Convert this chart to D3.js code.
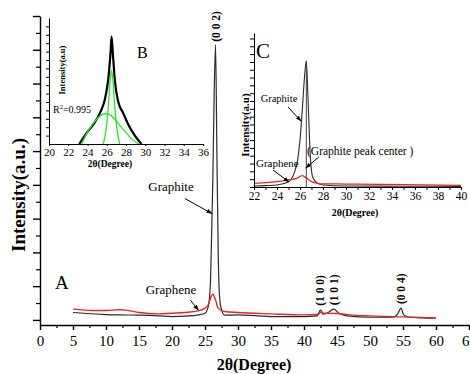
<!DOCTYPE html>
<html>
<head>
<meta charset="utf-8">
<script src="https://cdn.jsdelivr.net/npm/d3@7"></script>
<style>
  body { margin: 0; background: #fff; }
  svg text { font-family: "Liberation Serif", "DejaVu Serif", "Times New Roman", Times, serif !important; }
</style>
</head>
<body>
<svg id="chart" width="470" height="374"></svg>
<script>
// XRD patterns, [2theta, intensity a.u.]

// panel A (full scan)
var graphiteA = [[5,0.22],[7,0.19],[10,0.16],[12,0.15],[15,0.14],[18,0.12],[20,0.1],[22,0.11],[24,0.15],[25,0.2],
  [25.5,0.4],[25.8,1.0],[26.0,2.5],[26.2,4.3],[26.4,6.8],[26.6,8.15],[26.8,5.0],[27.0,2.0],[27.2,0.7],[27.5,0.3],
  [28,0.14],[30,0.15],[33,0.12],[35,0.1],[38,0.1],[40,0.1],[42,0.12],[42.5,0.3],[42.9,0.17],[43.5,0.2],[44.5,0.32],
  [45.3,0.2],[46.5,0.12],[50,0.08],[53.5,0.08],[54.2,0.18],[54.7,0.35],[55.1,0.15],[56,0.08],[58,0.06],[60,0.05]];
var grapheneA = [[5,0.32],[8,0.28],[10,0.28],[12,0.3],[13,0.29],[15,0.22],[18,0.18],[20,0.2],[22,0.22],[24,0.27],
  [25,0.35],[25.5,0.45],[25.8,0.62],[26.2,0.76],[26.6,0.59],[27,0.35],[28,0.25],[30,0.22],[35,0.18],[40,0.15],
  [42.2,0.17],[42.6,0.24],[43,0.2],[45,0.19],[47,0.15],[50,0.12],[55,0.09],[60,0.06]];
var peakLabels = [["(0 0 2)", 26.6, 8.15], ["(1 0 0)", 42.5, 0.3], ["(1 0 1)", 44.5, 0.32], ["(0 0 4)", 54.7, 0.35]];
var xTicksA = d3.range(0, 66, 5);
var yTicksA = d3.range(0, 10, 1);

// panel B (peak fit)
var fitTotal = [[23.15,0],[23.9,1.3],[24.6,2.3],[25.3,3.7],[25.8,5.3],[26.15,7.65],[26.4,11.0],[26.5,12.8],
  [26.65,10.5],[26.85,7.5],[27.2,5.0],[27.7,3.7],[28.25,2.3],[28.75,1.3],[29.6,0]];
var fitNarrow = [[25.6,0],[25.8,0.8],[26.0,2.4],[26.2,5.0],[26.35,7.4],[26.5,8.76],[26.65,7.4],[26.8,5.0],
  [27.0,2.4],[27.2,0.8],[27.35,0]];
var fitBroad = [[23.4,0],[23.9,1.2],[24.5,2.3],[25.0,3.0],[25.5,3.5],[25.9,3.6],[26.3,3.5],[26.8,3.0],[27.3,2.3],
  [27.9,1.5],[28.5,0.7],[29.3,0]];
var xTicksB = d3.range(20, 37, 2);
var rSquared = "0.995";

// panel C (zoom on the 002 peak)
var graphiteC = [[22,0.13],[23,0.18],[24,0.26],[25,0.68],[25.5,1.8],[25.8,3.5],[26.0,6.0],[26.2,9.9],[26.4,14.2],
  [26.55,16.1],[26.7,11.2],[26.9,3.85],[27.1,1.28],[27.5,0.5],[28,0.26],[30,0.13],[35,0.1],[40,0.08]];
var grapheneC = [[22,0.47],[23,0.55],[24,0.68],[25,0.9],[25.7,1.1],[26.2,1.45],[26.6,1.1],[27,0.68],[27.5,0.47],
  [28,0.4],[30,0.38],[35,0.3],[40,0.2]];
var peakCenterC = 26.55;
var xTicksC = d3.range(22, 41, 2);

var black = "#2b2b2b", red = "#e8232b", green = "#2ee02e";
var serif = "'Liberation Serif', 'DejaVu Serif', 'Times New Roman', serif";

var svg = d3.select("#chart");

var defs = svg.append("defs");
defs.append("marker")
  .attr("id", "arr")
  .attr("viewBox", "0 0 10 10")
  .attr("refX", 9).attr("refY", 5)
  .attr("markerWidth", 6).attr("markerHeight", 6)
  .attr("markerUnits", "userSpaceOnUse")
  .attr("orient", "auto")
  .append("path").attr("d", "M0,1.5L10,5L0,8.5Z").attr("fill", "#000");

function drawLine(g, data, x, y, color, width) {
  g.append("path")
    .datum(data)
    .attr("fill", "none")
    .attr("stroke", color)
    .attr("stroke-width", width)
    .attr("stroke-linejoin", "round")
    .attr("d", d3.line()
      .x(function(d) { return x(d[0]); })
      .y(function(d) { return y(d[1]); })
      .curve(d3.curveMonotoneX));
}

// arrow pointing at (x2,y2) from an offset start
function arrow(g, x2, y2, dx, dy) {
  g.append("line")
    .attr("x1", x2 + dx).attr("y1", y2 + dy)
    .attr("x2", x2).attr("y2", y2)
    .attr("stroke", "#000").attr("stroke-width", 1)
    .attr("marker-end", "url(#arr)");
}

function label(g, txt, x, y, size, opts) {
  opts = opts || {};
  var t = g.append("text")
    .attr("x", x).attr("y", y)
    .attr("font-family", serif)
    .attr("font-size", size)
    .attr("text-anchor", opts.anchor || "start")
    .attr("font-weight", opts.bold ? "bold" : "normal")
    .attr("fill", "#000")
    .text(txt);
  if (opts.rotate) t.attr("transform", "rotate(-90," + x + "," + y + ")");
  return t;
}

function styleAxis(g, width) {
  g.attr("font-family", serif);
  g.selectAll(".domain").attr("stroke", "#000").attr("stroke-width", width);
  g.selectAll(".tick line").attr("stroke", "#000").attr("stroke-width", width);
  g.selectAll(".tick text").attr("fill", "#000");
}

// ---------- panel A ----------
var xA = d3.scaleLinear().domain([0, 65]).range([40, 469]);
var yA = d3.scaleLinear().domain([-0.15, 9]).range([325, 16]);
var gA = svg.append("g");

drawLine(gA, graphiteA, xA, yA, black, 1.2);
drawLine(gA, grapheneA, xA, yA, red, 1.4);

var axA = gA.append("g").attr("transform", "translate(0,325)")
  .call(d3.axisBottom(xA).tickValues(xTicksA).tickSize(5).tickSizeOuter(0).tickPadding(5));
axA.selectAll(".tick text").attr("font-size", 15);
styleAxis(axA, 1.4);
var axAm = gA.append("g").attr("transform", "translate(0,325)")
  .call(d3.axisBottom(xA).tickValues(xTicksA.slice(0, -1).map(function(v) { return v + 2.5; }))
    .tickSize(3).tickSizeOuter(0).tickFormat(""));
axAm.select(".domain").remove();
styleAxis(axAm, 1.2);

var ayA = gA.append("g").attr("transform", "translate(40,0)")
  .call(d3.axisLeft(yA).tickValues(yTicksA).tickSize(7).tickSizeOuter(0).tickFormat(""));
styleAxis(ayA, 1.4);
var ayAm = gA.append("g").attr("transform", "translate(40,0)")
  .call(d3.axisLeft(yA).tickValues(yTicksA.slice(0, -1).map(function(v) { return v + 0.5; }))
    .tickSize(4).tickSizeOuter(0).tickFormat(""));
ayAm.select(".domain").remove();
styleAxis(ayAm, 1.2);

label(gA, "2\u03b8(Degree)", 254, 370, 16, {bold: true, anchor: "middle"});
label(gA, "Intensity(a.u.)", 25, 195, 19, {bold: true, anchor: "middle", rotate: true});
label(gA, "A", 55, 289, 19);

peakLabels.forEach(function(p, i) {
  var px = xA(p[1]) + 4, py = yA(p[2]) - 4;
  if (i === 0) py = yA(p[2]) - 3;
  label(gA, p[0], px, py, 11.5, {bold: true, rotate: true});
});

arrow(gA, xA(26.05), yA(3.15), -27, -15);
label(gA, "Graphite", 171, 191, 13, {anchor: "middle"});
arrow(gA, xA(24), yA(0.29), -8, -10);
label(gA, "Graphene", 171, 294, 13, {anchor: "middle"});

// ---------- panel B ----------
var xB = d3.scaleLinear().domain([20, 36]).range([49, 203]);
var yB = d3.scaleLinear().domain([0, 15]).range([144, 18]);
var gB = svg.append("g");

drawLine(gB, fitTotal, xB, yB, "#000", 2.2);
drawLine(gB, fitBroad, xB, yB, green, 1.3);
drawLine(gB, fitNarrow, xB, yB, green, 1.3);

var axB = gB.append("g").attr("transform", "translate(0,144)")
  .call(d3.axisBottom(xB).tickValues(xTicksB).tickSize(2).tickSizeOuter(0).tickPadding(2));
axB.selectAll(".tick text").attr("font-size", 11);
styleAxis(axB, 1);
var ayB = gB.append("g").attr("transform", "translate(49,0)")
  .call(d3.axisLeft(yB).tickValues(d3.range(1, 15)).tickSize(3).tickSizeOuter(0).tickFormat(""));
styleAxis(ayB, 1);

label(gB, "2\u03b8(Degree)", 110, 167, 9.5, {bold: true, anchor: "middle"});
label(gB, "Intensity(a.u)", 65, 70, 8.5, {bold: true, anchor: "middle", rotate: true});
label(gB, "B", 137, 58, 16);
var r2 = label(gB, "R", 53, 113, 10);
r2.append("tspan").attr("font-size", 6.5).attr("dy", -4).text("2");
r2.append("tspan").attr("dy", 4).text("=" + rSquared);

// ---------- panel C ----------
var xC = d3.scaleLinear().domain([22, 40]).range([254, 461]);
var yC = d3.scaleLinear().domain([0, 19.7]).range([187, 33]);
var gC = svg.append("g");

drawLine(gC, graphiteC, xC, yC, black, 1.1);
gC.append("line")
  .attr("x1", xC(peakCenterC)).attr("x2", xC(peakCenterC))
  .attr("y1", yC(16.1)).attr("y2", yC(0))
  .attr("stroke", "#444").attr("stroke-width", 1);
drawLine(gC, grapheneC, xC, yC, red, 1.3);

var axC = gC.append("g").attr("transform", "translate(0,187)")
  .call(d3.axisBottom(xC).tickValues(d3.range(22, 41, 1)).tickSize(3).tickSizeOuter(0)
    .tickFormat(function(d) { return d % 2 === 0 ? d : ""; }).tickPadding(2));
axC.selectAll(".tick text").attr("font-size", 11.5);
styleAxis(axC, 1);
var ayC = gC.append("g").attr("transform", "translate(254,0)")
  .call(d3.axisLeft(yC).tickValues(d3.range(0, 20)).tickSize(4).tickSizeOuter(0).tickFormat(""));
styleAxis(ayC, 1);

label(gC, "2\u03b8(Degree)", 355, 216, 10, {bold: true, anchor: "middle"});
label(gC, "Intensity(a.u)", 249, 125, 11, {bold: true, anchor: "middle", rotate: true});
label(gC, "C", 256, 58, 21);

arrow(gC, xC(26.09), yC(8.44), -13, -14);
label(gC, "Graphite", 279, 102, 10.5, {anchor: "middle"});
arrow(gC, xC(26.5), yC(2.43), 13, -11);
label(gC, "(Graphite peak center )", 307, 155, 11.5);
arrow(gC, xC(25.04), yC(0.64), -16, -12);
label(gC, "Graphene", 256, 167, 11);
</script>
</body>
</html>
